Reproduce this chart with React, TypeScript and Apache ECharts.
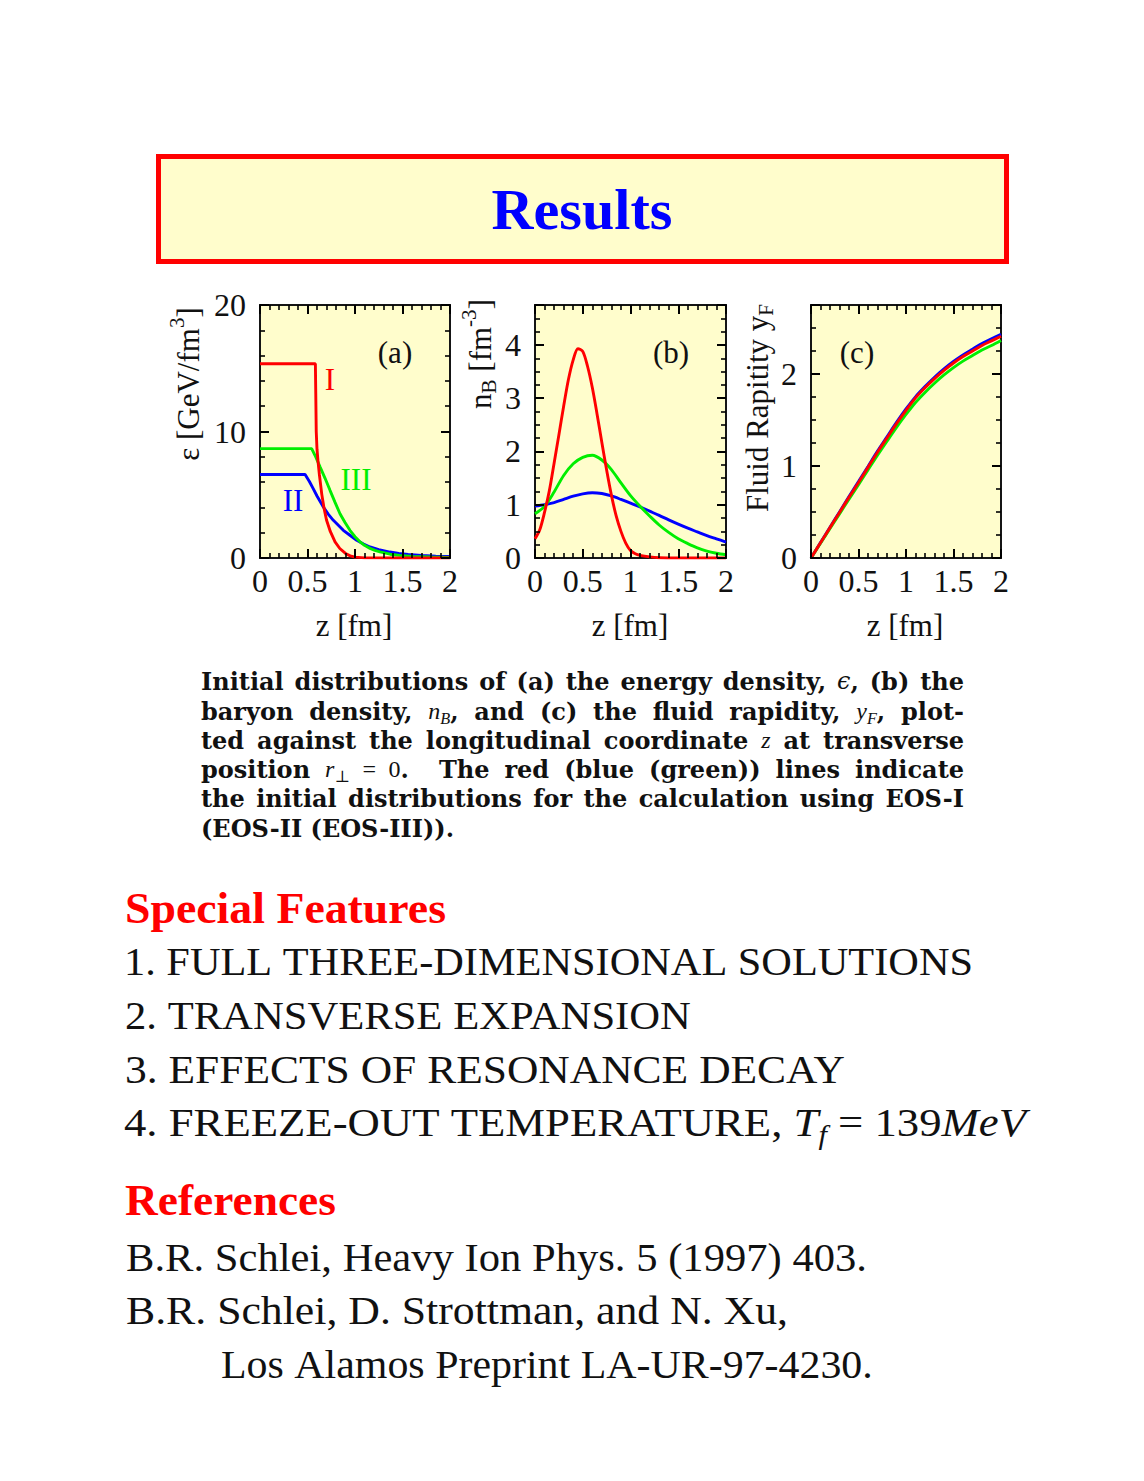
import React, { useEffect, useRef } from "react";
import * as echarts from "echarts";

const SERIF = '"Liberation Serif", "Times New Roman", serif';
const DJV = '"DejaVu Serif", serif';
const RED = "#ff0000";
const BLUE = "#0000ff";
const GREEN = "#00ee00";
const PANEL_BG = "#fffdcc";
const INK = "#111111";

// ---------- Panel (a): energy density eps [GeV/fm^3] vs z [fm]
const aZ_I = [0, 0.583, 0.587, 0.592, 0.6, 0.61, 0.625, 0.65, 0.675, 0.7, 0.74, 0.79, 0.84, 0.9, 0.95, 1.0, 1.1, 1.5, 2.0];
const aEps_I = [15.35, 15.35, 13.0, 10.0, 8.6, 7.7, 6.6, 5.05, 3.9, 3.0, 2.1, 1.27, 0.75, 0.36, 0.17, 0.07, 0.01, 0.0, 0.0];
const aZ_II = [0, 0.475, 0.52, 0.56, 0.6, 0.667, 0.72, 0.772, 0.83, 0.877, 0.95, 1.018, 1.09, 1.158, 1.25, 1.368, 1.46, 1.56, 1.7, 1.85, 2.0];
const aEps_II = [6.6, 6.6, 6.05, 5.48, 4.9, 4.03, 3.45, 2.98, 2.55, 2.19, 1.78, 1.4, 1.1, 0.87, 0.66, 0.47, 0.36, 0.28, 0.2, 0.15, 0.12];
const aZ_III = [0, 0.544, 0.58, 0.632, 0.685, 0.737, 0.79, 0.842, 0.895, 0.947, 1.0, 1.05, 1.1, 1.158, 1.21, 1.263, 1.37, 1.47, 1.6, 1.8, 2.0];
const aEps_III = [8.65, 8.65, 8.1, 7.2, 6.3, 5.35, 4.4, 3.5, 2.8, 2.19, 1.68, 1.3, 1.0, 0.76, 0.6, 0.48, 0.3, 0.21, 0.13, 0.08, 0.05];

// ---------- Panel (b): baryon density n_B [fm^-3] vs z [fm]
const bZ_I = [0, 0.05, 0.1, 0.15, 0.2, 0.25, 0.3, 0.35, 0.4, 0.45, 0.5, 0.55, 0.6, 0.65, 0.7, 0.75, 0.8, 0.85, 0.9, 0.95, 1.0, 1.05, 1.1, 1.2, 1.3, 1.5, 2.0];
const bN_I = [0.36, 0.53, 0.86, 1.26, 1.78, 2.31, 2.85, 3.35, 3.72, 3.93, 3.88, 3.6, 3.2, 2.7, 2.17, 1.65, 1.18, 0.79, 0.5, 0.28, 0.14, 0.08, 0.05, 0.02, 0.005, 0, 0];
const bZ = [0, 0.1, 0.2, 0.3, 0.4, 0.5, 0.6, 0.7, 0.8, 0.9, 1.0, 1.1, 1.2, 1.3, 1.4, 1.5, 1.6, 1.7, 1.8, 1.9, 2.0];
const bN_II = [0.975, 1.0, 1.04, 1.1, 1.16, 1.205, 1.225, 1.21, 1.165, 1.1, 1.03, 0.96, 0.88, 0.8, 0.715, 0.635, 0.56, 0.49, 0.42, 0.36, 0.3];
const bN_III = [0.83, 0.97, 1.24, 1.55, 1.77, 1.89, 1.93, 1.84, 1.66, 1.41, 1.17, 0.97, 0.79, 0.62, 0.48, 0.36, 0.27, 0.19, 0.13, 0.09, 0.06];

// ---------- Panel (c): fluid rapidity y_F vs z [fm]
const cZ = [0, 0.1, 0.2, 0.3, 0.4, 0.5, 0.6, 0.7, 0.8, 0.9, 1.0, 1.1, 1.2, 1.3, 1.4, 1.5, 1.6, 1.7, 1.8, 1.9, 2.0];
const cY_I = [0, 0.165, 0.33, 0.495, 0.66, 0.82, 0.985, 1.15, 1.305, 1.46, 1.605, 1.74, 1.85, 1.95, 2.04, 2.12, 2.19, 2.25, 2.31, 2.36, 2.41];
const cY_II = [0, 0.167, 0.334, 0.5, 0.667, 0.83, 0.995, 1.162, 1.318, 1.474, 1.62, 1.752, 1.863, 1.965, 2.056, 2.137, 2.208, 2.27, 2.331, 2.382, 2.432];
const cY_III = [0, 0.16, 0.32, 0.48, 0.64, 0.797, 0.957, 1.117, 1.27, 1.42, 1.56, 1.69, 1.8, 1.9, 1.99, 2.07, 2.14, 2.2, 2.26, 2.31, 2.365];

// ---------- Axis tick labels
const zTickLabels = ["0", "0.5", "1", "1.5", "2"];
const yTickLabels = [["0", "10", "20"], ["0", "1", "2", "3", "4"], ["0", "1", "2"]];

const GRIDS = [
  { left: 260, top: 305, width: 190, height: 253 },
  { left: 535, top: 305, width: 191, height: 253 },
  { left: 811, top: 305, width: 190, height: 253 },
];
const Y_SPECS = [
  { max: 20, major: 10, minor: 2 },
  { max: 4.75, major: 1, minor: 0.25 },
  { max: 2.75, major: 1, minor: 0.25 },
];

// ---------- text helpers
let _ctx: any = null;
function textWidth(text: string, font: string) {
  if (!_ctx) _ctx = document.createElement("canvas").getContext("2d");
  _ctx.font = font;
  return _ctx.measureText(text).width;
}
type Seg = { t: string; it?: boolean; sub?: boolean; sup?: boolean; weight?: string; family?: string; color?: string };
type LineOpt = { x: number; y: number; size: number; weight?: string; family?: string; color?: string; anchor?: "left" | "center"; fit?: number; justify?: number; rot?: boolean };

function layoutLine(segs: Seg[], o: LineOpt): any[] {
  const pieces: any[] = [];
  for (const s of segs) {
    const size = s.sub || s.sup ? o.size * 0.68 : o.size;
    const weight = s.weight ?? o.weight ?? "normal";
    const family = s.family ?? o.family ?? SERIF;
    const style = s.it ? "italic" : "normal";
    const font = `${style} ${weight} ${size}px ${family}`;
    const dy = s.sub ? o.size * 0.3 : s.sup ? -o.size * 0.36 : 0;
    const parts = s.t.split(" ");
    parts.forEach((p, i) => {
      if (p) pieces.push({ text: p, font, dy, w: textWidth(p, font), color: s.color ?? o.color ?? INK });
      if (i < parts.length - 1) pieces.push({ space: true, w: textWidth(" ", font) });
    });
  }
  const natural = pieces.reduce((a, p) => a + p.w, 0);
  const nSpaces = pieces.filter((p) => p.space).length;
  let k = 1;
  let extra = 0;
  if (o.fit) k = o.fit / natural;
  if (o.justify) {
    if (natural > o.justify || !nSpaces) k = o.justify / natural;
    else extra = (o.justify - natural) / nSpaces;
  }
  const total = o.justify ?? natural * k;
  let lx = o.anchor === "center" ? -total / 2 : 0;
  const els: any[] = [];
  for (const pc of pieces) {
    if (pc.space) {
      lx += pc.w * k + extra;
      continue;
    }
    const X = o.rot ? o.x + pc.dy : o.x + lx;
    const Y = o.rot ? o.y - lx : o.y + pc.dy;
    els.push({
      type: "text",
      x: X,
      y: Y,
      rotation: o.rot ? Math.PI / 2 : 0,
      scaleX: k,
      silent: true,
      z: 100,
      style: {
        text: pc.text,
        font: pc.font,
        fill: pc.color,
        textAlign: "left",
        textVerticalAlign: "middle",
        align: "left",
        verticalAlign: "middle",
      },
    });
    lx += pc.w * k;
  }
  return els;
}

function buildOption() {
  const tickMajor = { inside: true, length: 9, lineStyle: { color: "#000", width: 2 } };
  const tickMinor = { inside: true, length: 5, lineStyle: { color: "#000", width: 1.6 } };
  const noLine = { show: false, onZero: false };
  const xAxis: any[] = [];
  const yAxis: any[] = [];
  GRIDS.forEach((_, p) => {
    const xb = { gridIndex: p, type: "value", min: 0, max: 2, splitLine: { show: false }, axisLine: noLine, z: 5 };
    xAxis.push(
      {
        ...xb,
        position: "bottom",
        interval: 0.5,
        axisTick: tickMajor,
        axisLabel: {
          show: true,
          fontSize: 32,
          fontFamily: SERIF,
          color: INK,
          margin: 7,
          formatter: (v: number) => (zTickLabels.includes(String(v)) ? String(v) : ""),
        },
      },
      { ...xb, position: "top", interval: 0.5, axisTick: tickMajor, axisLabel: { show: false } },
      { ...xb, position: "top", interval: 0.1, axisTick: tickMinor, axisLabel: { show: false } },
      { ...xb, position: "bottom", interval: 0.1, axisTick: tickMinor, axisLabel: { show: false } }
    );
    const ys = Y_SPECS[p];
    const yb = { gridIndex: p, type: "value", min: 0, max: ys.max, splitLine: { show: false }, axisLine: noLine, z: 5 };
    yAxis.push(
      {
        ...yb,
        position: "left",
        interval: ys.major,
        axisTick: tickMajor,
        axisLabel: {
          show: true,
          fontSize: 32,
          fontFamily: SERIF,
          color: INK,
          margin: 14,
          formatter: (v: number) => (yTickLabels[p].includes(String(v)) ? String(v) : ""),
        },
      },
      { ...yb, position: "right", interval: ys.major, axisTick: tickMajor, axisLabel: { show: false } },
      { ...yb, position: "right", interval: ys.minor, axisTick: tickMinor, axisLabel: { show: false } },
      { ...yb, position: "left", interval: ys.minor, axisTick: tickMinor, axisLabel: { show: false } }
    );
  });

  const zip = (xs: number[], ys: number[]) => xs.map((x, i) => [x, ys[i]]);
  const panels = [
    { smooth: false, lines: [[aZ_II, aEps_II, BLUE], [aZ_III, aEps_III, GREEN], [aZ_I, aEps_I, RED]] },
    { smooth: true, lines: [[bZ, bN_II, BLUE], [bZ, bN_III, GREEN], [bZ_I, bN_I, RED]] },
    { smooth: true, lines: [[cZ, cY_II, BLUE], [cZ, cY_III, GREEN], [cZ, cY_I, RED]] },
  ];
  const series: any[] = [];
  panels.forEach((pn, p) => {
    pn.lines.forEach(([xs, ys, color]: any) => {
      series.push({
        type: "line",
        xAxisIndex: p * 4,
        yAxisIndex: p * 4,
        data: zip(xs, ys),
        showSymbol: false,
        smooth: pn.smooth ? 0.3 : false,
        lineStyle: { color, width: 2.9 },
        itemStyle: { color },
        z: 3,
      });
    });
  });

  const g: any[] = [];
  // title box
  g.push({
    type: "rect",
    shape: { x: 158.5, y: 156.5, width: 848, height: 105 },
    style: { fill: PANEL_BG, stroke: RED, lineWidth: 5 },
    z: 1,
  });
  g.push(...layoutLine([{ t: "Results" }], { x: 582, y: 210, size: 56, weight: "bold", color: BLUE, anchor: "center", fit: 181 }));

  // panel annotations
  g.push(...layoutLine([{ t: "(a)" }], { x: 395, y: 352, size: 31, anchor: "center" }));
  g.push(...layoutLine([{ t: "(b)" }], { x: 671, y: 352, size: 31, anchor: "center" }));
  g.push(...layoutLine([{ t: "(c)" }], { x: 857, y: 352, size: 31, anchor: "center" }));
  g.push(...layoutLine([{ t: "I" }], { x: 330, y: 379, size: 31, anchor: "center", color: RED }));
  g.push(...layoutLine([{ t: "II" }], { x: 293, y: 500, size: 31, anchor: "center", color: BLUE }));
  g.push(...layoutLine([{ t: "III" }], { x: 356, y: 479, size: 31, anchor: "center", color: GREEN }));

  // axis names
  g.push(...layoutLine([{ t: "ε [GeV/fm" }, { t: "3", sup: true }, { t: "]" }], { x: 188, y: 384, size: 31, anchor: "center", rot: true }));
  g.push(...layoutLine([{ t: "n" }, { t: "B", sub: true }, { t: " [fm" }, { t: "-3", sup: true }, { t: "]" }], { x: 480, y: 354, size: 31, anchor: "center", rot: true }));
  g.push(...layoutLine([{ t: "Fluid Rapitity y" }, { t: "F", sub: true }], { x: 757, y: 408, size: 31, anchor: "center", rot: true }));
  [354, 630, 905].forEach((cx) => g.push(...layoutLine([{ t: "z [fm]" }], { x: cx, y: 625, size: 31, anchor: "center" })));

  // caption
  const capOpt = (y: number, justify?: number): LineOpt => ({ x: 201, y, size: 24, weight: "bold", family: DJV, justify });
  const M = { it: true, weight: "normal", family: SERIF };
  const MS = { it: true, weight: "normal", family: SERIF, sub: true };
  const capLines: Seg[][] = [
    [{ t: "Initial distributions of (a) the energy density, " }, { t: "ϵ", ...M, family: DJV }, { t: ", (b) the" }],
    [{ t: "baryon density, " }, { t: "n", ...M }, { t: "B", ...MS }, { t: ", and (c) the fluid rapidity, " }, { t: "y", ...M }, { t: "F", ...MS }, { t: ", plot-" }],
    [{ t: "ted against the longitudinal coordinate " }, { t: "z", ...M }, { t: " at transverse" }],
    [{ t: "position " }, { t: "r", ...M }, { t: "⊥", ...MS, it: false, family: DJV }, { t: " = ", weight: "normal", family: SERIF }, { t: "0", weight: "normal", family: SERIF }, { t: ".  The red (blue (green)) lines indicate" }],
    [{ t: "the initial distributions for the calculation using EOS-I" }],
    [{ t: "(EOS-II (EOS-III))." }],
  ];
  const capY = [681, 711, 740, 769, 798, 828];
  capLines.forEach((segs, i) => g.push(...layoutLine(segs, capOpt(capY[i], i < 5 ? 763 : undefined))));

  // Special features
  g.push(...layoutLine([{ t: "Special Features" }], { x: 125, y: 908, size: 44, weight: "bold", color: RED, fit: 321 }));
  g.push(...layoutLine([{ t: "1. FULL THREE-DIMENSIONAL SOLUTIONS" }], { x: 124, y: 961, size: 41, fit: 849 }));
  g.push(...layoutLine([{ t: "2. TRANSVERSE EXPANSION" }], { x: 125, y: 1015, size: 41, fit: 566 }));
  g.push(...layoutLine([{ t: "3. EFFECTS OF RESONANCE DECAY" }], { x: 125, y: 1069, size: 41, fit: 720 }));
  g.push(
    ...layoutLine(
      [{ t: "4. FREEZE-OUT TEMPERATURE, " }, { t: "T", it: true }, { t: "f", it: true, sub: true }, { t: " = 139" }, { t: "MeV", it: true }],
      { x: 124, y: 1122, size: 41, fit: 902 }
    )
  );

  // References
  g.push(...layoutLine([{ t: "References" }], { x: 125, y: 1200, size: 44, weight: "bold", color: RED, fit: 211 }));
  g.push(...layoutLine([{ t: "B.R. Schlei, Heavy Ion Phys. 5 (1997) 403." }], { x: 126, y: 1257, size: 41, fit: 741 }));
  g.push(...layoutLine([{ t: "B.R. Schlei, D. Strottman, and N. Xu," }], { x: 126, y: 1310, size: 41, fit: 662 }));
  g.push(...layoutLine([{ t: "Los Alamos Preprint LA-UR-97-4230." }], { x: 221, y: 1364, size: 41, fit: 652 }));

  return {
    animation: false,
    backgroundColor: "#ffffff",
    grid: GRIDS.map((gr) => ({ ...gr, show: true, backgroundColor: PANEL_BG, borderColor: "#151515", borderWidth: 2, containLabel: false })),
    xAxis,
    yAxis,
    series,
    graphic: { elements: g },
  };
}

export default function App() {
  const ref = useRef<HTMLDivElement>(null);
  useEffect(() => {
    if (!ref.current) return;
    const chart = echarts.init(ref.current, undefined, { renderer: "svg" });
    chart.setOption(buildOption() as any);
    return () => chart.dispose();
  }, []);
  return <div ref={ref} style={{ position: "absolute", left: 0, top: 0, width: 1144, height: 1481, background: "#fff" }} />;
}
